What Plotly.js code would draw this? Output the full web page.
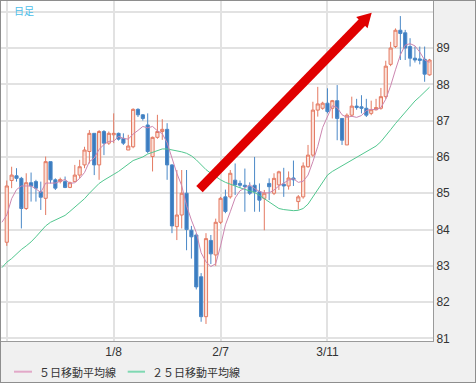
<!DOCTYPE html>
<html><head><meta charset="utf-8">
<script src="https://cdn.plot.ly/plotly-3.0.1.min.js"></script>
<style>
html,body{margin:0;padding:0;background:#fff;}
#wrap{width:474px;height:381px;border:1px solid #8e8e8e;}
#chart{width:474px;height:381px;}
</style></head><body><div id="wrap"><div id="chart"></div></div>
<script>
const open=[83.65,85.35,85.48,85.41,84.58,85.29,85.32,85.04,84.86,85.87,
85.37,85.32,85.32,85.16,85.32,85.5,85.78,86.15,86.65,85.78,
86.7,86.38,86.61,86.65,86.51,86.19,86.28,87.31,87.16,86.88,
86.01,86.54,86.7,86.76,85.78,84.08,84.4,85.0,83.98,83.85,
82.7,81.6,83.7,83.3,84.2,84.9,84.9,85.36,85.27,85.22,
85.18,85.22,85.04,84.86,85.27,85.0,85.23,85.25,85.2,85.42,
84.77,84.9,85.73,86.05,87.29,87.34,87.48,87.34,87.55,87.06,
86.33,87.15,87.4,87.38,87.34,87.2,87.3,87.34,87.66,88.55,
89.04,89.49,89.42,89.04,88.72,88.7,88.69,88.26];
const high=[85.35,85.73,85.69,85.45,85.55,85.57,85.37,85.32,86.01,85.87,
85.41,85.43,85.46,85.32,85.78,85.92,86.28,86.74,86.65,86.74,
86.74,86.7,87.2,86.67,86.65,86.61,87.34,87.34,87.18,87.2,
86.56,87.16,87.04,86.93,85.8,85.64,85.64,85.64,84.1,83.9,
82.8,83.9,83.85,84.3,84.9,85.1,85.64,85.82,85.35,85.68,
85.3,86.0,85.27,85.09,85.41,85.55,85.62,85.7,85.6,85.9,
84.95,85.85,86.33,87.52,87.93,87.52,87.89,87.57,87.98,87.06,
87.2,87.66,87.6,87.7,87.6,87.55,87.6,87.9,88.65,89.17,
89.54,89.88,89.5,89.27,89.04,89.04,89.04,88.7];
const low=[83.55,85.14,85.32,84.03,84.54,84.77,84.77,84.54,84.4,85.27,
85.09,85.27,85.14,85.14,85.32,85.41,85.69,85.82,85.5,85.37,
86.05,86.33,86.38,86.45,86.33,86.19,86.24,87.1,87.0,86.1,
85.6,86.5,86.47,85.37,83.9,83.71,84.03,83.43,83.2,82.35,
81.46,81.4,83.05,83.0,84.15,84.45,84.85,84.95,85.15,84.49,
84.95,84.49,84.49,83.98,84.81,84.95,85.09,84.9,85.1,85.2,
84.55,84.85,85.7,86.0,87.11,87.3,87.2,87.06,86.46,86.33,
86.33,87.1,87.3,87.2,87.1,87.15,87.28,87.3,87.6,88.5,
89.0,88.67,88.67,88.49,88.6,88.55,88.07,88.24];
const close=[85.2,85.5,85.41,84.58,85.29,85.2,85.14,84.89,85.87,85.37,
85.14,85.38,85.16,85.29,85.5,85.73,86.19,86.65,85.78,86.7,
86.38,86.65,86.65,86.49,86.38,86.3,87.31,87.16,87.06,86.15,
86.54,86.7,86.76,85.78,84.1,84.4,85.0,84.0,83.8,82.42,
81.6,83.75,83.33,84.2,84.86,84.5,85.55,85.23,85.22,85.18,
85.0,85.04,84.81,85.0,85.18,85.41,85.59,85.2,85.42,85.37,
84.9,85.75,86.05,87.29,87.46,87.48,87.25,87.55,87.06,86.46,
87.15,87.4,87.36,87.34,87.15,87.3,87.36,87.66,88.5,89.0,
89.49,89.4,89.0,88.72,88.67,88.66,88.28,88.67];
// moving averages, first value is the day before the first candle
const ma5=[84.2,
84.4,84.85,85.1,85.2,85.2,85.2,85.12,85.02,85.28,85.29,
85.28,85.33,85.38,85.27,85.29,85.41,85.57,85.87,85.97,86.21,
86.34,86.43,86.43,86.57,86.51,86.49,86.63,86.73,86.84,86.8,
86.84,86.72,86.64,86.39,85.98,85.55,85.21,84.66,84.26,83.92,
83.36,83.11,82.98,83.06,83.55,84.13,84.49,84.87,85.07,85.14,
85.24,85.13,85.05,85.01,85.01,85.09,85.2,85.28,85.36,85.4,
85.3,85.33,85.5,85.87,86.29,86.81,87.11,87.41,87.36,87.16,
87.09,87.12,87.09,87.14,87.28,87.31,87.3,87.36,87.59,87.96,
88.4,88.81,89.08,89.12,89.06,88.89,88.67,88.6];
const ma25=[82.95,
83.1,83.2,83.33,83.45,83.55,83.66,83.8,83.95,84.1,84.2,
84.27,84.33,84.39,84.5,84.62,84.74,84.85,85.0,85.13,85.27,
85.36,85.45,85.52,85.6,85.7,85.8,85.9,85.95,86.0,86.08,
86.13,86.18,86.22,86.22,86.2,86.18,86.14,86.1,86.03,85.92,
85.78,85.65,85.55,85.45,85.37,85.3,85.24,85.2,85.15,85.11,
85.08,85.02,84.94,84.85,84.75,84.65,84.58,84.55,84.53,84.52,
84.53,84.58,84.7,84.9,85.1,85.3,85.5,85.6,85.68,85.76,
85.82,85.9,85.98,86.07,86.15,86.22,86.3,86.42,86.57,86.75,
86.92,87.08,87.25,87.4,87.54,87.66,87.8,87.92];
const xTickPos=[0,22,44,66];
const xTickLabels=['','1/8','2/7','3/11'];
const yTickVals=[81,82,83,84,85,86,87,88,89,90];
const yTickLabels=['81','82','83','84','85','86','87','88','89',''];
const seriesNames=['５日移動平均線','２５日移動平均線'];
const periodLabel='日足';

const idx=close.map((_,i)=>i);
const maIdx=ma5.map((_,k)=>k-1);
const pw=432, ph=340;
const tickFont={family:'Liberation Sans, Arial, sans-serif',size:12,color:'#333333'};

const traces=[
 {type:'scatter',mode:'lines',x:maIdx,y:ma25,line:{color:'#52c78f',width:1},hoverinfo:'skip',showlegend:false},
 {type:'candlestick',x:idx,open:open,high:high,low:low,close:close,
  increasing:{line:{color:'#e47a62',width:1},fillcolor:'#fbe2da'},
  decreasing:{line:{color:'#4a88c7',width:1},fillcolor:'#3b7cc0'},
  whiskerwidth:0,hoverinfo:'skip',showlegend:false},
 {type:'scatter',mode:'lines',x:maIdx,y:ma5,line:{color:'#cc86b0',width:1},hoverinfo:'skip',showlegend:false}
];

const layout={
 width:474,height:381,
 margin:{l:0,r:42,t:0,b:41,pad:0},
 paper_bgcolor:'#f0f0f0',plot_bgcolor:'#ffffff',
 showlegend:false,
 boxgap:0.35,boxgroupgap:0,
 xaxis:{range:[-1.19,87.72],tickmode:'array',tickvals:xTickPos,ticktext:xTickLabels,
  showgrid:true,gridcolor:'#e2e2e2',gridwidth:2,zeroline:false,showline:true,mirror:true,
  linecolor:'#9a9a9a',linewidth:1,ticks:'',tickfont:tickFont,rangeslider:{visible:false},fixedrange:true},
 yaxis:{range:[80.93,90.295],side:'right',tickmode:'array',tickvals:yTickVals,ticktext:yTickLabels,
  showgrid:true,gridcolor:'#e2e2e2',gridwidth:2,zeroline:false,showline:true,mirror:true,
  linecolor:'#9a9a9a',linewidth:1,ticks:'',tickfont:tickFont,fixedrange:true},
 shapes:[
  {type:'line',xref:'x',yref:'y',x0:39.66,y0:85.116,x1:73.51,y1:89.758,line:{color:'#e00000',width:9}},
  {type:'path',xref:'x',yref:'y',path:'M 75.10 89.972 L 74.25 89.543 L 71.91 89.851 Z',fillcolor:'#e00000',line:{width:0}},
  {type:'line',xref:'paper',yref:'paper',x0:13/pw,x1:31/pw,y0:-30.7/ph,y1:-30.7/ph,line:{color:'#e2a8c8',width:2}},
  {type:'line',xref:'paper',yref:'paper',x0:126.7/pw,x1:144/pw,y0:-30.7/ph,y1:-30.7/ph,line:{color:'#7fd8b2',width:2}}
 ],
 annotations:[
  {xref:'paper',yref:'paper',x:11/pw,y:1-9/ph,xanchor:'left',yanchor:'middle',showarrow:false,text:periodLabel,
   font:{family:'Noto Sans CJK JP',size:10,color:'#4dbde9'}},
  {xref:'paper',yref:'paper',x:35.5/pw,y:-30.7/ph,xanchor:'left',yanchor:'middle',showarrow:false,text:seriesNames[0],
   font:{family:'Noto Sans CJK JP',size:11,color:'#333333'}},
  {xref:'paper',yref:'paper',x:148.7/pw,y:-30.7/ph,xanchor:'left',yanchor:'middle',showarrow:false,text:seriesNames[1],
   font:{family:'Noto Sans CJK JP',size:11,color:'#333333'}}
 ]
};
Plotly.newPlot('chart',traces,layout,{staticPlot:true,displayModeBar:false});
</script></body></html>
